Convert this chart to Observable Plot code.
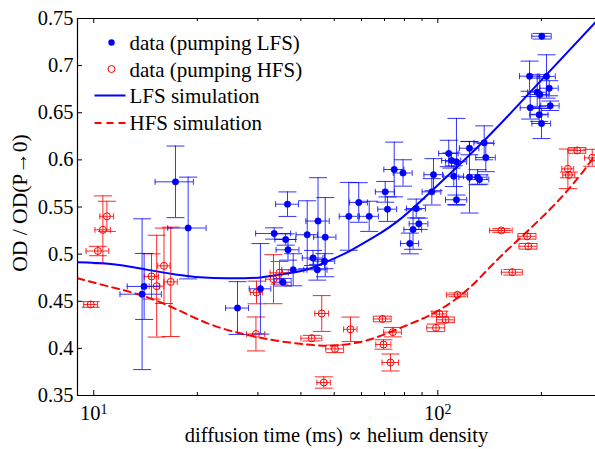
<!DOCTYPE html>
<html>
<head>
<meta charset="utf-8">
<script src="https://cdn.jsdelivr.net/npm/d3@7"></script>
<script src="https://cdn.jsdelivr.net/npm/@observablehq/plot@0.6"></script>
<style>
  html, body { margin: 0; padding: 0; background: #fff; }
  #chart { width: 595px; height: 449px; }
  #chart svg, #chart svg text { font-family: "Liberation Serif", "DejaVu Serif", serif !important; }
</style>
</head>
<body>
<div id="chart"></div>
<script>
// ---------- data ----------
// data (pumping LFS): diffusion time (ms), OD ratio, errors
const lfsTime = [13.82, 14.01, 17.28, 18.81, 26.17, 30.51, 33.45, 35.48, 36.13, 36.57, 36.69, 37.99, 41.73, 43.38, 44.65, 44.86, 46.85, 47.07, 55.12, 58.92, 63.18, 70.33, 71.42, 74.69, 79.23, 82.93, 84.72, 86.55, 88.08, 96.07, 97.16, 107.6, 109.6, 111.3, 113.3, 113.3, 123.6, 123.6, 130.5, 132.2, 136.4, 137.9, 184.8, 185.6, 194.5, 197.1, 197.9, 200.2, 200.6, 207.0, 210.8, 212.2];
const lfsOD = [0.4575, 0.4657, 0.5767, 0.5277, 0.4428, 0.4632, 0.5219, 0.4702, 0.5155, 0.5530, 0.5046, 0.4834, 0.5206, 0.4959, 0.4834, 0.5351, 0.4925, 0.5180, 0.5401, 0.5548, 0.5401, 0.5661, 0.5477, 0.5898, 0.5861, 0.5113, 0.5261, 0.5484, 0.5322, 0.5661, 0.5843, 0.6068, 0.5993, 0.5827, 0.5980, 0.5577, 0.6124, 0.5816, 0.5816, 0.5792, 0.6181, 0.6025, 0.6888, 0.6553, 0.6718, 0.6478, 0.6694, 0.6386, 0.7312, 0.6885, 0.6760, 0.6574];
const lfsTimeErr = [1.9, 1.5, 2.2, 2.4, 2.0, 2.2, 3.9, 2.0, 2.5, 2.8, 2.8, 2.8, 3.0, 3.0, 3.0, 3.5, 3.3, 3.5, 3.4, 3.5, 4.0, 4.5, 4.5, 5.0, 5.0, 5.0, 5.0, 5.5, 5.5, 6.0, 6.0, 7.0, 7.0, 7.5, 8.0, 8.0, 8.0, 8.5, 8.5, 8.5, 9.0, 9.0, 12, 12, 12, 12, 12.5, 12.5, 13, 12.5, 13, 13];
const lfsODErr = [0.080, 0.035, 0.038, 0.054, 0.028, 0.048, 0.006, 0.004, 0.006, 0.013, 0.011, 0.017, 0.036, 0.008, 0.011, 0.046, 0.008, 0.042, 0.036, 0.021, 0.016, 0.011, 0.013, 0.029, 0.014, 0.011, 0.021, 0.010, 0.006, 0.014, 0.017, 0.014, 0.008, 0.011, 0.046, 0.005, 0.007, 0.038, 0.008, 0.005, 0.018, 0.015, 0.016, 0.012, 0.015, 0.007, 0.021, 0.016, 0.003, 0.023, 0.008, 0.005];

// data (pumping HFS)
const hfsTime = [9.80, 10.28, 10.63, 10.92, 14.72, 15.24, 16.00, 16.74, 29.61, 29.72, 33.30, 34.66, 43.0, 46.0, 46.63, 50.24, 55.74, 69.06, 69.54, 72.86, 73.99, 98.8, 101.1, 105.4, 114.1, 153.0, 164.6, 181.9, 183.2, 238.8, 240.4, 254.2, 281.1];
const hfsOD = [0.4466, 0.5033, 0.5258, 0.5401, 0.4763, 0.4660, 0.4876, 0.4706, 0.4153, 0.4593, 0.4734, 0.4802, 0.4108, 0.4370, 0.3638, 0.3995, 0.4202, 0.4312, 0.4041, 0.3850, 0.4172, 0.4218, 0.4365, 0.4303, 0.4568, 0.5251, 0.4808, 0.5189, 0.5083, 0.5905, 0.5840, 0.6100, 0.6022];
const hfsTimeErr = [0.45, 0.78, 0.55, 0.5, 0.7, 0.75, 0.65, 0.75, 1.8, 1.2, 1.7, 2.1, 3.0, 2.1, 2.1, 3.0, 2.5, 4.1, 3.5, 4.0, 4.4, 5.9, 5.0, 6.3, 8.0, 11.5, 11.5, 11, 11, 9.5, 9.6, 15, 14];
const hfsODErr = [0.003, 0.005, 0.036, 0.016, 0.024, 0.054, 0.040, 0.058, 0.018, 0.012, 0.026, 0.012, 0.003, 0.019, 0.006, 0.004, 0.013, 0.003, 0.005, 0.009, 0.005, 0.004, 0.003, 0.003, 0.002, 0.002, 0.003, 0.003, 0.003, 0.021, 0.003, 0.003, 0.009];

// LFS simulation
const lfsSimTime = [8.97, 11.05, 13.82, 17.28, 21.6, 27.01, 30.86, 36.89, 42.17, 50.42, 55.74, 65.16, 77.93, 97.4, 121.8, 152.2, 208.0, 287.3];
const lfsSimOD = [0.4914, 0.4897, 0.4844, 0.4784, 0.4749, 0.4745, 0.4755, 0.4798, 0.4844, 0.4961, 0.5038, 0.5180, 0.5374, 0.5693, 0.6028, 0.6383, 0.6913, 0.7461];

// HFS simulation
const hfsSimTime = [8.97, 11.05, 13.82, 17.28, 21.6, 27.01, 33.74, 41.73, 50.42, 63.0, 78.8, 98.5, 123.1, 152.2, 212.6, 265.7, 287.3];
const hfsSimOD = [0.4745, 0.4657, 0.4561, 0.4420, 0.4261, 0.4155, 0.4084, 0.4041, 0.4031, 0.4091, 0.4225, 0.4384, 0.4636, 0.4975, 0.5481, 0.5887, 0.6057];

// axes
const xDomain = [8.97, 287.3];
const yDomain = [0.35, 0.75];
const yTicks = [0.35, 0.4, 0.45, 0.5, 0.55, 0.6, 0.65, 0.7, 0.75];
const yTickLabels = ["0.35", "0.4", "0.45", "0.5", "0.55", "0.6", "0.65", "0.7", "0.75"];
const xMajorTicks = [10, 100];
const xTickExponents = ["1", "2"];
const xMinorTicks = [20, 30, 40, 50, 60, 70, 80, 90, 200];
const xLabel = "diffusion time (ms) \u221D helium density";
const yLabel = "OD / OD(P\u21920)";
const legendLabels = ["data (pumping LFS)", "data (pumping HFS)", "LFS simulation", "HFS simulation"];

// ---------- build ----------
const BLUE = "#0000ff", RED = "#ff0000";
const W = 595, H = 449, mL = 77, mR = 0, mT = 18, mB = 54;
const PW = W - mL - mR, PH = H - mT - mB;
const font = "Liberation Serif, DejaVu Serif, serif";

const lfs = lfsTime.map((t, i) => ({t, od: lfsOD[i], dt: lfsTimeErr[i], dod: lfsODErr[i]}));
const hfs = hfsTime.map((t, i) => ({t, od: hfsOD[i], dt: hfsTimeErr[i], dod: hfsODErr[i]}));
const lfsSim = lfsSimTime.map((t, i) => ({t, od: lfsSimOD[i]}));
const hfsSim = hfsSimTime.map((t, i) => ({t, od: hfsSimOD[i]}));

const hline = {draw(ctx, size) { const r = Math.sqrt(size / Math.PI); ctx.moveTo(-r, 0); ctx.lineTo(r, 0); }};
const vline = {draw(ctx, size) { const r = Math.sqrt(size / Math.PI); ctx.moveTo(0, -r); ctx.lineTo(0, r); }};

function errorMarks(data, color, op) {
  const s = {stroke: color, strokeWidth: 1, strokeOpacity: op};
  return [
    Plot.ruleX(data, {x: "t", y1: d => d.od - d.dod, y2: d => d.od + d.dod, ...s}),
    Plot.ruleY(data, {y: "od", x1: d => d.t - d.dt, x2: d => d.t + d.dt, ...s}),
    Plot.dot(data, {x: "t", y: d => d.od - d.dod, symbol: hline, r: 9, ...s}),
    Plot.dot(data, {x: "t", y: d => d.od + d.dod, symbol: hline, r: 9, ...s}),
    Plot.dot(data, {x: d => d.t - d.dt, y: "od", symbol: vline, r: 3, ...s}),
    Plot.dot(data, {x: d => d.t + d.dt, y: "od", symbol: vline, r: 3, ...s})
  ];
}

const legendDy = [31, 58, 84.5, 111];
const legendText = legendLabels.map((label, i) =>
  Plot.text([label], {text: d => d, frameAnchor: "top-left", dx: 52, dy: legendDy[i], textAnchor: "start", lineAnchor: "bottom", fontSize: 21, fontFamily: font}));

const plot = Plot.plot({
  width: W, height: H,
  marginLeft: mL, marginRight: mR, marginTop: mT, marginBottom: mB,
  style: {fontFamily: font, fontSize: "20.5px", background: "#fff", color: "#000"},
  x: {type: "log", domain: xDomain, label: null},
  y: {domain: yDomain, label: null},
  marks: [
    // error bars
    ...errorMarks(hfs, RED, 0.85),
    ...errorMarks(lfs, BLUE, 0.8),
    // simulations
    Plot.line(hfsSim, {x: "t", y: "od", stroke: RED, strokeWidth: 2, strokeDasharray: "7,5", curve: "natural", clip: true}),
    Plot.line(lfsSim, {x: "t", y: "od", stroke: BLUE, strokeWidth: 2, curve: "natural", clip: true}),
    // points
    Plot.dot(hfs, {x: "t", y: "od", r: 3.5, stroke: RED, strokeWidth: 1, fill: "none"}),
    Plot.dot(lfs, {x: "t", y: "od", r: 3.2, fill: BLUE, stroke: BLUE, strokeWidth: 0.5}),
    // frame (left, top, bottom)
    Plot.ruleX([xDomain[0]], {stroke: "#000", strokeWidth: 1.2}),
    Plot.ruleY(yDomain, {stroke: "#000", strokeWidth: 1.2}),
    // inward ticks
    Plot.tickY(yTicks, {y: d => d, insetRight: PW - 5, stroke: "#000"}),
    Plot.tickX(xMajorTicks, {x: d => d, insetTop: PH - 5, stroke: "#000"}),
    Plot.tickX(xMajorTicks, {x: d => d, insetBottom: PH - 5, stroke: "#000"}),
    Plot.tickX(xMinorTicks, {x: d => d, insetTop: PH - 3, stroke: "#000"}),
    Plot.tickX(xMinorTicks, {x: d => d, insetBottom: PH - 3, stroke: "#000"}),
    // tick labels
    Plot.axisY({ticks: yTicks, tickSize: 0, tickPadding: 4, tickFormat: d => yTickLabels[yTicks.indexOf(d)], label: null, fontFamily: font}),
    Plot.axisX({ticks: xMajorTicks, tickSize: 0, tickPadding: 10, tickFormat: () => "10", label: null, fontFamily: font}),
    // axis titles
    Plot.text([xLabel], {text: d => d, frameAnchor: "bottom", dy: 46, lineAnchor: "bottom", textAnchor: "middle", fontSize: 20.5, fontFamily: font}),
    Plot.text([yLabel], {text: d => d, frameAnchor: "left", dx: -57, dy: -4, rotate: -90, textAnchor: "middle", lineAnchor: "middle", fontSize: 21.5, fontFamily: font}),
    // legend
    Plot.dot([0], {frameAnchor: "top-left", dx: 34, dy: 24, r: 3.2, fill: BLUE}),
    Plot.dot([0], {frameAnchor: "top-left", dx: 34, dy: 50.5, r: 3.5, stroke: RED, strokeWidth: 1, fill: "none"}),
    Plot.dot([0], {frameAnchor: "top-left", dx: 32.5, dy: 77, r: 15.5, symbol: hline, stroke: BLUE, strokeWidth: 2}),
    Plot.dot([0], {frameAnchor: "top-left", dx: 32.5, dy: 104.5, r: 15.5, symbol: hline, stroke: RED, strokeWidth: 2, strokeDasharray: "7,5"}),
    ...legendText
  ]
});

// superscript exponents on the x tick labels (10^1, 10^2)
d3.select(plot).selectAll('[aria-label="x-axis tick label"] text').each(function(d, i) {
  d3.select(this).append("tspan").attr("dy", "-0.45em").attr("font-size", "14px").text(xTickExponents[i] || "");
});
d3.select(plot).selectAll("text").style("font-family", font);

document.getElementById("chart").appendChild(plot);
</script>
</body>
</html>
